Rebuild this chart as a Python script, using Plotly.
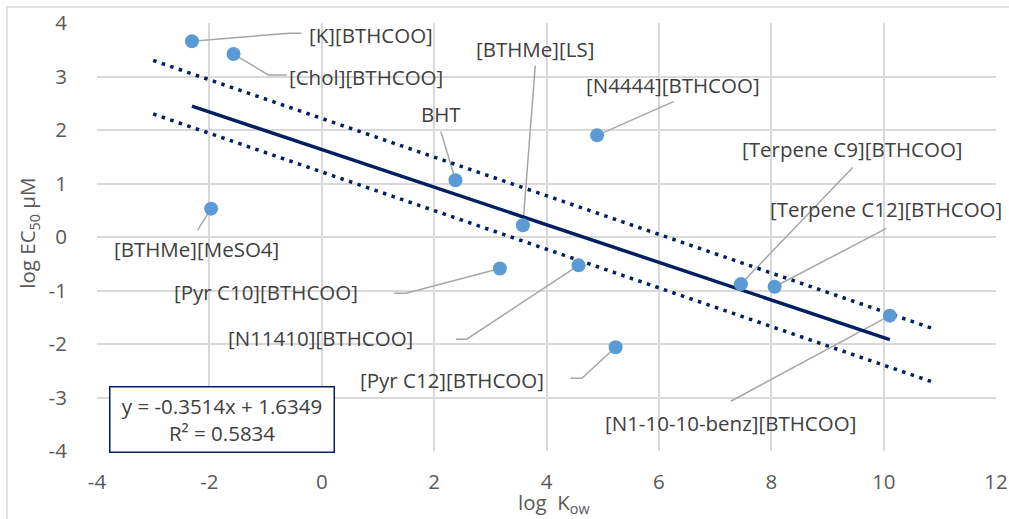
import plotly.graph_objects as go

# ---- data ----
names = ["[K][BTHCOO]", "[Chol][BTHCOO]", "[BTHMe][MeSO4]", "BHT", "[BTHMe][LS]",
         "[N4444][BTHCOO]", "[Pyr C10][BTHCOO]", "[N11410][BTHCOO]", "[Pyr C12][BTHCOO]",
         "[Terpene C9][BTHCOO]", "[Terpene C12][BTHCOO]", "[N1-10-10-benz][BTHCOO]"]
log_kow = [-2.31, -1.57, -1.97, 2.38, 3.58, 4.90, 3.17, 4.57, 5.23, 7.46, 8.06, 10.11]
log_ec50 = [3.66, 3.42, 0.53, 1.06, 0.22, 1.90, -0.59, -0.53, -2.06, -0.88, -0.93, -1.47]

slope = -0.3514
intercept = 1.6349
r2 = 0.5834

band_x = [-3.0, 10.9]
band_upper = [3.30, -1.72]
band_lower = [2.30, -2.72]

x_ticks = [-4, -2, 0, 2, 4, 6, 8, 10, 12]
x_ticktext = ["-4", "-2", "0", "2", "4", "6", "8", "10", "12"]
y_ticks = [-4, -3, -2, -1, 0, 1, 2, 3, 4]
y_ticktext = ["-4", "-3", "-2", "-1", "0", "1", "2", "3", "4"]

# ---- label layout (positions of data labels and leader lines) ----
label_pos = [(0.88, 3.78), (0.79, 3.00), (-2.23, -0.22), (2.12, 2.30), (3.79, 3.51),
             (6.26, 2.84), (-1.00, -1.02), (-0.03, -1.89), (2.31, -2.67),
             (9.45, 1.64), (10.05, 0.52), (7.27, -3.48)]
leader_paths = [
    [(-0.57, 3.81), (-0.36, 3.81)],
    [(-0.95, 3.03), (-0.62, 3.03)],
    [(-2.21, 0.13)],
    [(2.12, 1.97)],
    [(3.80, 3.20)],
    [(6.26, 2.53)],
    [(1.50, -1.05), (1.29, -1.05)],
    [(2.58, -1.91), (2.39, -1.91)],
    [(4.63, -2.64), (4.43, -2.64)],
    [(9.45, 1.30)],
    [(10.05, 0.16)],
    [(7.28, -3.07)],
]

FONT = "Open Sans"
FS = 20.5
NAVY = "#002060"
fig = go.Figure()

# leader lines
lx, ly = [], []
for px, py, path in zip(log_kow, log_ec50, leader_paths):
    lx.append(px); ly.append(py)
    for (a, b) in path:
        lx.append(a); ly.append(b)
    lx.append(None); ly.append(None)
fig.add_trace(go.Scatter(x=lx, y=ly, mode="lines", line=dict(color="#A6A6A6", width=1.5),
                         hoverinfo="skip", showlegend=False))

# dotted band lines
fig.add_trace(go.Scatter(x=band_x, y=band_upper, mode="lines",
                         line=dict(color=NAVY, width=3.5, dash="3.5px,5.5px"), showlegend=False))
fig.add_trace(go.Scatter(x=band_x, y=band_lower, mode="lines",
                         line=dict(color=NAVY, width=3.5, dash="3.5px,5.5px"), showlegend=False))

# trendline
tx = [min(log_kow), max(log_kow)]
ty = [slope * v + intercept for v in tx]
fig.add_trace(go.Scatter(x=tx, y=ty, mode="lines", line=dict(color=NAVY, width=3.5),
                         showlegend=False))

# points
fig.add_trace(go.Scatter(x=log_kow, y=log_ec50, mode="markers", text=names,
                         marker=dict(color="#5B9BD5", size=14), showlegend=False))

# labels
for name, (ax, ay) in zip(names, label_pos):
    fig.add_annotation(x=ax, y=ay, text=name, showarrow=False,
                       font=dict(family=FONT, size=FS, color="#404040"))

# equation box
fig.add_annotation(x=-1.78, y=-3.41, showarrow=False,
                   text=f"y = {slope}x + {intercept}<br>R² = {r2}",
                   font=dict(family=FONT, size=FS, color="#404040"),
                   bordercolor=NAVY, borderwidth=1.5, bgcolor="white",
                   width=219, height=60, borderpad=2, align="center")

# axis titles
fig.add_annotation(xref="paper", yref="paper", x=0.508, y=-0.1215, yanchor="middle",
                   text="log  K<sub>ow</sub>", showarrow=False,
                   font=dict(family=FONT, size=FS, color="#595959"))
fig.add_annotation(xref="paper", yref="paper", x=-0.0768, y=0.51, xanchor="center",
                   yanchor="middle", textangle=-90,
                   text="log EC<sub>50</sub> μM", showarrow=False,
                   font=dict(family=FONT, size=FS, color="#595959"))

# outer chart border
fig.add_shape(type="rect", xref="paper", yref="paper", x0=-0.1001, x1=1.03,
              y0=-0.25, y1=1.0374, line=dict(color="#D9D9D9", width=1.5), layer="above")

fig.update_layout(
    width=1009, height=519,
    margin=dict(l=97, r=13, t=23, b=68),
    paper_bgcolor="white", plot_bgcolor="white",
    font=dict(family=FONT, size=FS, color="#595959"),
)
fig.update_xaxes(range=[-4, 12], tickvals=x_ticks, ticktext=x_ticktext,
                 showgrid=True, gridcolor="#D9D9D9", automargin=False,
                 gridwidth=1.5, zeroline=False, showline=False,
                 ticks="outside", ticklen=12, tickcolor="rgba(0,0,0,0)",
                 tickfont=dict(family=FONT, size=FS, color="#595959"))
fig.update_yaxes(range=[-4, 4], tickvals=y_ticks, ticktext=y_ticktext,
                 showgrid=True, gridcolor="#D9D9D9", automargin=False,
                 gridwidth=1.5, zeroline=False, showline=False,
                 ticks="outside", ticklen=25, tickcolor="rgba(0,0,0,0)",
                 tickfont=dict(family=FONT, size=FS, color="#595959"))

fig.write_html("out.html", config={"displayModeBar": False},
               post_script="document.body.style.margin='0px';document.body.style.overflow='hidden';")
